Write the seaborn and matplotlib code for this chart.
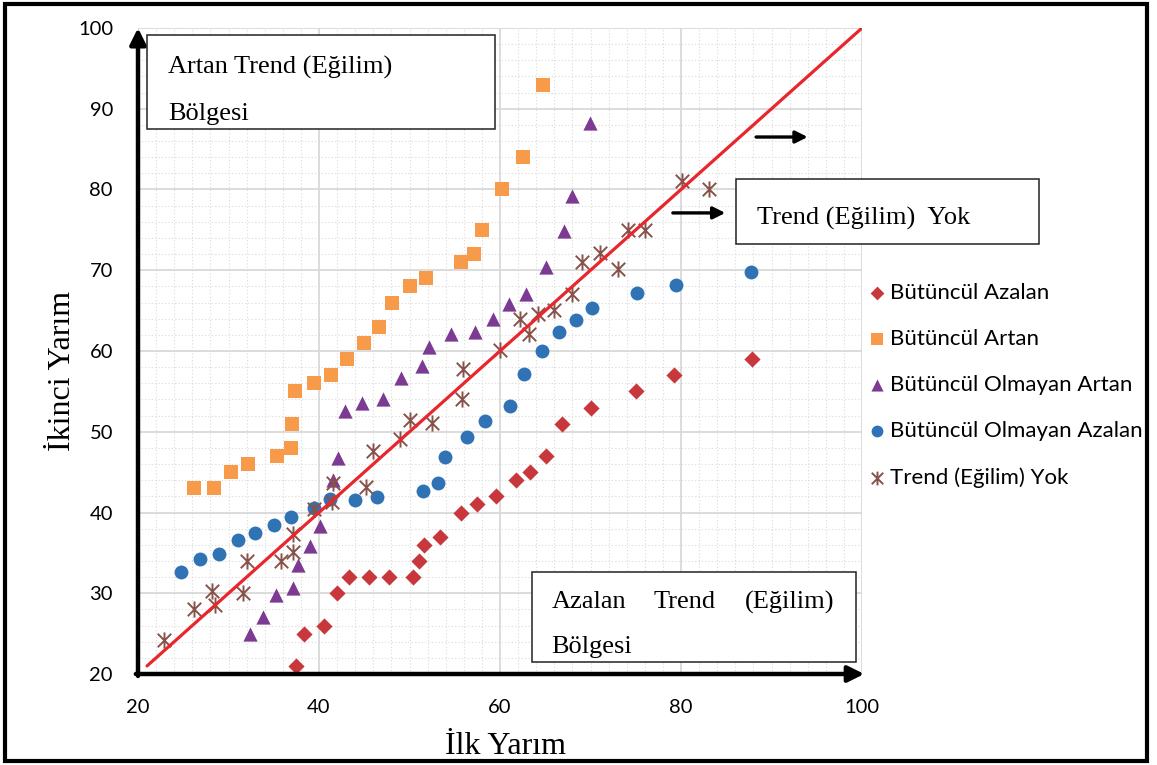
import matplotlib
matplotlib.use("Agg")
import matplotlib.pyplot as plt
import seaborn as sns
import pandas as pd
from matplotlib.path import Path
from matplotlib.markers import MarkerStyle
from matplotlib.patches import Rectangle
from matplotlib.ticker import MultipleLocator

# --- data: first half (x) vs second half (y) ---
azalan_x = [37.5, 38.3, 40.5, 42.0, 43.3, 45.5, 47.7, 50.4, 51.0, 51.6, 53.4,
            55.7, 57.5, 59.6, 61.8, 63.3, 65.1, 66.9, 70.0, 75.0, 79.2, 87.8]
azalan_y = [21, 25, 26, 30, 32, 32, 32, 32, 34, 36, 37,
            40, 41, 42, 44, 45, 47, 51, 53, 55, 57, 59]

artan_x = [26.2, 28.4, 30.3, 32.1, 35.4, 36.9, 37.0, 37.4, 39.4, 41.3, 43.1,
           45.0, 46.6, 48.1, 50.0, 51.8, 55.7, 57.1, 58.0, 60.2, 62.5, 64.7]
artan_y = [43, 43, 45, 46, 47, 48, 51, 55, 56, 57, 59,
           61, 63, 66, 68, 69, 71, 72, 75, 80, 84, 93]

olm_artan_x = [32.4, 33.8, 35.2, 37.1, 37.7, 39.0, 40.1, 41.5, 42.1, 42.9, 44.8, 47.1,
               49.1, 51.4, 52.2, 54.6, 57.2, 59.2, 61.0, 62.9, 65.1, 67.1, 68.0, 69.9]
olm_artan_y = [25.0, 27.0, 29.8, 30.6, 33.5, 35.8, 38.3, 44.0, 46.8, 52.6, 53.5, 54.1,
               56.6, 58.1, 60.5, 62.1, 62.4, 64.0, 65.8, 67.0, 70.4, 74.9, 79.2, 88.2]

olm_azalan_x = [24.7, 26.8, 29.0, 31.0, 32.9, 35.0, 36.9, 39.4, 41.2, 44.0, 46.4, 51.5, 53.2,
                53.9, 56.4, 58.3, 61.1, 62.7, 64.6, 66.5, 68.4, 70.2, 75.1, 79.4, 87.7]
olm_azalan_y = [32.6, 34.3, 34.8, 36.6, 37.5, 38.4, 39.5, 40.6, 41.7, 41.5, 41.9, 42.7, 43.6,
                46.9, 49.4, 51.3, 53.2, 57.2, 60.0, 62.3, 63.9, 65.3, 67.2, 68.2, 69.8]

yok_x = [22.9, 26.2, 28.2, 28.5, 31.6, 32.0, 35.8, 37.1, 37.1, 39.4, 41.4, 41.6, 45.2, 46.0, 49.0, 50.1,
         52.5, 55.8, 55.9, 60.0, 62.2, 63.2, 64.2, 66.0, 68.0, 69.1, 71.0, 73.0, 74.1, 76.0, 80.1, 83.1]
yok_y = [24.2, 28.0, 30.3, 28.5, 30.0, 34.0, 34.0, 35.1, 37.3, 40.4, 41.3, 43.7, 43.2, 47.6, 49.1, 51.4,
         51.1, 54.0, 57.8, 60.1, 64.0, 62.1, 64.6, 65.1, 67.0, 71.0, 72.1, 70.1, 75.0, 75.0, 81.1, 80.0]

# no-trend reference line y = x
line_x = [21, 100]
line_y = [21, 100]

x_ticks = [20, 40, 60, 80, 100]
y_ticks = [20, 30, 40, 50, 60, 70, 80, 90, 100]

labels = ["Bütüncül Azalan", "Bütüncül Artan", "Bütüncül Olmayan Artan",
          "Bütüncül Olmayan Azalan", "Trend (Eğilim) Yok"]

# --- style ---
sns.set_style("white")
plt.rcParams["font.family"] = ["Lato", "DejaVu Sans"]
plt.rcParams["text.color"] = "black"
plt.rcParams["xtick.color"] = "black"
plt.rcParams["ytick.color"] = "black"
SERIF = ["Liberation Serif", "DejaVu Serif"]

fig = plt.figure(figsize=(11.57, 7.65), dpi=100)
ax = fig.add_axes([138 / 1157, 91 / 765, 724 / 1157, 646 / 765])

# asterisk marker: an X crossed by a vertical bar
star_path = Path(
    [(-1, -1), (1, 1), (-1, 1), (1, -1), (0, -1.2), (0, 1.2)],
    [Path.MOVETO, Path.LINETO, Path.MOVETO, Path.LINETO, Path.MOVETO, Path.LINETO],
)
star_marker = MarkerStyle(star_path)

series = [
    (azalan_x, azalan_y, "D", "#C8373B", 68, 0),
    (artan_x, artan_y, "s", "#F79A4A", 92, 0),
    (olm_artan_x, olm_artan_y, "^", "#7D3A92", 105, 0),
    (olm_azalan_x, olm_azalan_y, "o", "#2F73B4", 100, 0),
    (yok_x, yok_y, star_marker, "#86524A", 135, 1.4),
]

for (xs, ys, mk, col, size, lw), lab in zip(series, labels):
    df = pd.DataFrame({"x": xs, "y": ys})
    sns.scatterplot(data=df, x="x", y="y", marker=mk, color=col, edgecolor=col,
                    s=size, linewidth=lw, label=lab, ax=ax, zorder=3)

sns.lineplot(x=line_x, y=line_y, color="#E8262B", linewidth=2.3, ax=ax,
             zorder=4, legend=False)

# --- axes ---
ax.set_xlim(20, 100)
ax.set_ylim(20, 100)
ax.set_xticks(x_ticks)
ax.set_yticks(y_ticks)
ax.xaxis.set_minor_locator(MultipleLocator(2))
ax.yaxis.set_minor_locator(MultipleLocator(2))
ax.grid(which="major", color="#D9D9D9", linewidth=1.3, linestyle="-", zorder=0)
ax.grid(which="minor", color="#DADADA", linewidth=0.8, linestyle=(0, (1, 2)), zorder=0)
ax.set_axisbelow(True)
for sp in ax.spines.values():
    sp.set_visible(False)
ax.tick_params(which="both", length=0)
ax.tick_params(axis="y", pad=18, labelsize=14.5, labelcolor="black")
ax.tick_params(axis="x", pad=18, labelsize=14.5, labelcolor="black")

ax.set_xlabel("İlk Yarım", fontsize=23, family=SERIF, color="black")
ax.set_ylabel("İkinci Yarım", fontsize=23, family=SERIF, color="black")
ax.xaxis.set_label_coords(0.507, -0.113)
ax.xaxis.label.set_va("center")
ax.yaxis.set_label_coords(-0.104, 0.469)
ax.yaxis.label.set_va("center")

# axis arrows
arrow_kw = dict(arrowstyle="-|>", color="black", lw=3.2, mutation_scale=24,
                shrinkA=0, shrinkB=0)
ax.annotate("", xy=(0, 1.0), xytext=(0, -0.003), xycoords="axes fraction",
            arrowprops=arrow_kw, annotation_clip=False)
ax.annotate("", xy=(1.003, 0), xytext=(-0.003, 0), xycoords="axes fraction",
            arrowprops=arrow_kw, annotation_clip=False)

# region boxes
box_kw = dict(fill=True, facecolor="white", edgecolor="#222222", linewidth=1.1,
              clip_on=False, zorder=5)
ax.add_patch(Rectangle((21.0, 87.5), 38.5, 11.6, **box_kw))
ax.add_patch(Rectangle((63.5, 21.5), 35.8, 11.1, **box_kw))
ax.add_patch(Rectangle((86.1, 73.2), 33.5, 8.1, **box_kw))

txt_kw = dict(fontsize=19, family=SERIF, va="baseline", zorder=6, clip_on=False,
              color="black")
ax.text(23.35, 94.3, "Artan Trend (Eğilim)", ha="left", **txt_kw)
ax.text(23.35, 88.6, "Bölgesi", ha="left", **txt_kw)
ax.text(88.36, 75.7, "Trend (Eğilim)  Yok", ha="left", **txt_kw)
ax.text(65.7, 28.14, "Azalan", ha="left", **txt_kw)
ax.text(77.0, 28.14, "Trend", ha="left", **txt_kw)
ax.text(97.0, 28.14, "(Eğilim)", ha="right", **txt_kw)
ax.text(65.7, 22.56, "Bölgesi", ha="left", **txt_kw)

small_arrow = dict(arrowstyle="-|>", color="black", lw=2.4, mutation_scale=18,
                   shrinkA=0, shrinkB=0)
ax.annotate("", xy=(94.0, 86.5), xytext=(88.3, 86.5), arrowprops=small_arrow,
            annotation_clip=False)
ax.annotate("", xy=(84.9, 77.1), xytext=(79.1, 77.1), arrowprops=small_arrow,
            annotation_clip=False)

# legend
leg = ax.legend(loc="upper left", bbox_to_anchor=(870 / 1157, 1 - 283 / 765),
                bbox_transform=fig.transFigure, frameon=False, fontsize=16,
                borderpad=0, borderaxespad=0, handlelength=0.6, handletextpad=0.32,
                labelspacing=1.17, markerscale=0.85)
for t in leg.get_texts():
    t.set_color("black")

# outer frame
fig.patches.append(Rectangle((5 / 1157, 4 / 765), 1142 / 1157, 757 / 765,
                             transform=fig.transFigure, fill=False,
                             edgecolor="black", linewidth=3))

fig.savefig("out.png", dpi=100)
